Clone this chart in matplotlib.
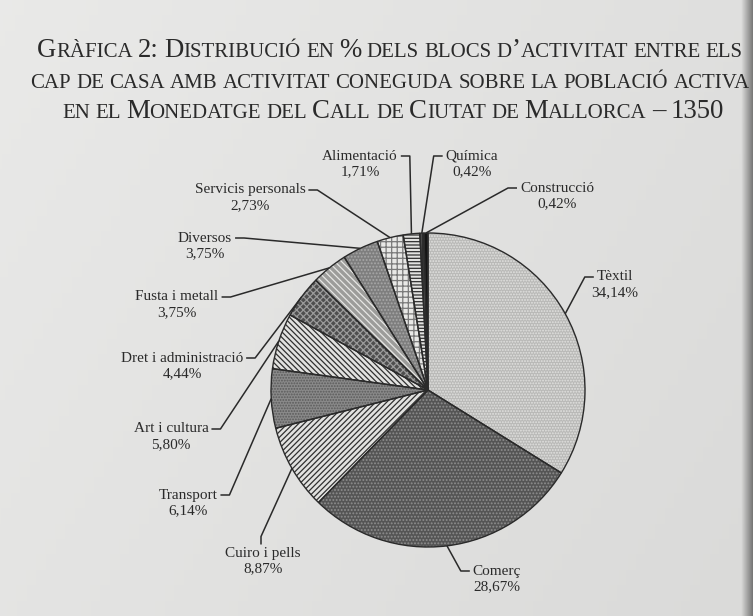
import matplotlib
matplotlib.use("Agg")
import matplotlib.pyplot as plt
import numpy as np

# ---------------- data ----------------
categories = ["Tèxtil", "Comerç", "Cuiro i pells", "Transport", "Art i cultura",
              "Dret i administració", "Fusta i metall", "Diversos",
              "Servicis personals", "Alimentació", "Química", "Construcció"]
values = [34.14, 28.67, 8.87, 6.14, 5.80, 4.44, 3.75, 3.75, 2.73, 1.71, 0.42, 0.42]
title_lines = ["Gràfica 2: Distribució en % dels blocs d’activitat entre els",
               "cap de casa amb activitat coneguda sobre la població activa",
               "en el Monedatge del Call de Ciutat de Mallorca – 1350"]

# ---------------- styles ----------------
faces = ["#b9b9b7", "#555555", "#e2e2e0", "#8a8a8a", "#e2e2e0", "#4e4e4e",
         "#9c9c9a", "#7e7e7e", "#e8e8e6", "#e2e2e0", "#4a4a4a", "#151515"]
hatch_cols = ["#e2e2e0", "#8e8e8e", "#303030", "#5a5a5a", "#303030", "#9a9a9a",
              "#e6e6e4", "#a8a8a8", "#7a7a7a", "#303030", "#222222", "#151515"]
hatches = ["......", ".....", "//////", "......", "\\\\\\\\\\\\", "xxxxx",
           "\\\\\\\\\\", ".....", "+++", "-----", "||||", None]
# label layout (pixel coords from top-left): name centre x, y, side of dash
label_layout = {
    "Tèxtil": (615, 277, "left"),
    "Comerç": (497, 571, "left"),
    "Cuiro i pells": (263, 553, "top"),
    "Transport": (188, 495, "right"),
    "Art i cultura": (171, 429, "right"),
    "Dret i administració": (182, 358, "right"),
    "Fusta i metall": (177, 297, "right"),
    "Diversos": (205, 238, "right"),
    "Servicis personals": (250, 190, "right"),
    "Alimentació": (360, 156, "right"),
    "Química": (472, 156, "left"),
    "Construcció": (557, 188, "left"),
}

W, H = 753, 616
SERIF = "Liberation Serif"
INK = "#2a2a2a"
plt.rcParams["hatch.linewidth"] = 0.9

fig = plt.figure(figsize=(W / 100, H / 100), dpi=100)
ax = fig.add_axes([0, 0, 1, 1])

# page background (photo-like)
xs = np.linspace(0, 1, W)
ys = np.linspace(0, 1, 40)[:, None]
lum = 0.915 - 0.04 * xs[None, :] - 0.02 * (1 - ys)
edge = np.clip((xs - 0.985) / 0.015, 0, 1)[None, :]
lum = lum * (1 - 0.45 * edge)
img = np.dstack([lum, lum, lum * 0.995])
ax.imshow(img, extent=(0, W, 0, H), aspect="auto", zorder=-10, origin="lower")

# ---------------- pie ----------------
cx, cy, r = 428, H - 390, 157
wedges, _ = ax.pie(values, startangle=90, counterclock=False, center=(cx, cy),
                   radius=r, wedgeprops=dict(linewidth=0))
for w, fc, hc, hh in zip(wedges, faces, hatch_cols, hatches):
    w.set_facecolor(fc)
    w.set_edgecolor(hc)
    w.set_linewidth(0)
    if hh:
        w.set_hatch(hh)
outl, _ = ax.pie(values, startangle=90, counterclock=False, center=(cx, cy),
                 radius=r, colors=["none"] * len(values),
                 wedgeprops=dict(linewidth=1.0, edgecolor=INK, fill=False))
ax.set_xlim(0, W)
ax.set_ylim(0, H)
ax.set_aspect("auto")
ax.axis("off")

renderer = fig.canvas.get_renderer()

# ---------------- labels + leaders ----------------
for w, name, val in zip(wedges, categories, values):
    lx, ly, side = label_layout[name]
    ly = H - ly
    t = ax.text(lx, ly, name, ha="center", va="center", fontsize=11,
                family=SERIF, color=INK)
    ax.text(lx, ly - 16, f"{val:.2f}".replace(".", ",") + "%", ha="center",
            va="center", fontsize=11, family=SERIF, color=INK)
    bb = t.get_window_extent(renderer).transformed(ax.transData.inverted())
    ym = (bb.y0 + bb.y1) / 2
    if side == "right":
        p0, p1 = (bb.x1 + 3, ym), (bb.x1 + 12, ym)
    elif side == "left":
        p0, p1 = (bb.x0 - 3, ym), (bb.x0 - 12, ym)
    else:
        p0, p1 = (lx - 2, bb.y1 + 2), (lx - 2, bb.y1 + 10)
    th = np.deg2rad((w.theta1 + w.theta2) / 2)
    anchor = (cx + r * np.cos(th), cy + r * np.sin(th))
    ax.plot([p0[0], p1[0], anchor[0]], [p0[1], p1[1], anchor[1]],
            color=INK, lw=1.1, solid_capstyle="butt", zorder=5)


# ---------------- title in small caps ----------------
def runs_of(word):
    runs = []
    for ch in word:
        small = ch.islower()
        if runs and runs[-1][1] == small:
            runs[-1][0] += ch
        else:
            runs.append([ch, small])
    return runs


def width_of(s, size):
    t = ax.text(0, 0, s, fontsize=size, family=SERIF)
    wdt = t.get_window_extent(renderer).width
    t.remove()
    return wdt


def smallcaps_line(text, xc, y, big, small, draw=True):
    sp = width_of("N N", small) - width_of("NN", small)
    arts = []
    x = 0.0
    for i, word in enumerate(text.split(" ")):
        if i:
            x += sp
        for s, is_small in runs_of(word):
            size = small if is_small else big
            t = ax.text(x, y, s.upper(), fontsize=size, family=SERIF,
                        color=INK, ha="left", va="baseline")
            x += t.get_window_extent(renderer).width
            arts.append(t)
    total = x
    for t in arts:
        if draw:
            t.set_x(t.get_position()[0] + xc - total / 2)
        else:
            t.remove()
    return total


big0, small0 = 20.0, 15.6
w0 = smallcaps_line(title_lines[0], 0, 0, big0, small0, draw=False)
k = 705 / w0
big, small = big0 * k, small0 * k
for line, yb, xc in zip(title_lines, [57, 88, 118], [390, 390, 393]):
    smallcaps_line(line, xc, H - yb, big, small)

fig.savefig("out.png", dpi=100, facecolor="#e6e6e4")
